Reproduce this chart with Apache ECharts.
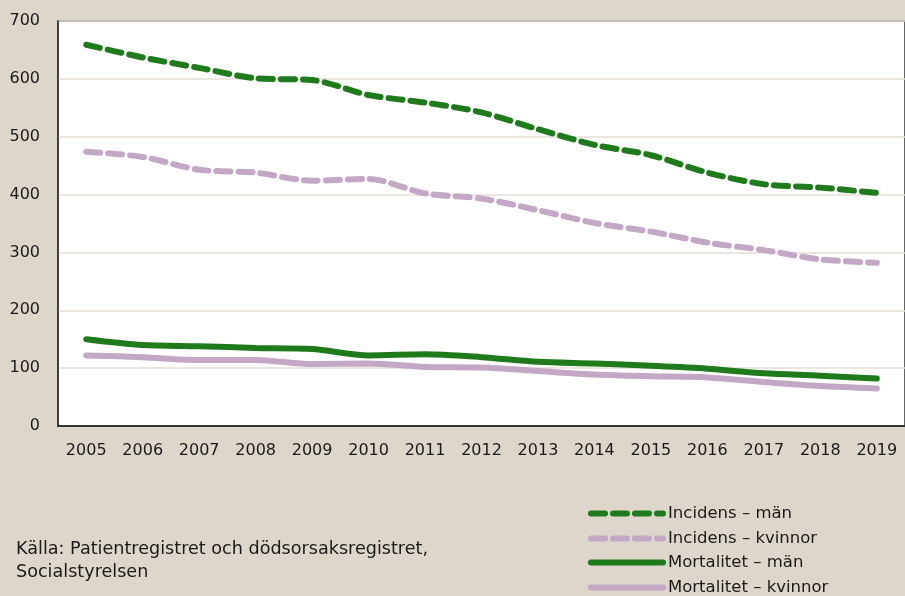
<!DOCTYPE html>
<html lang="sv">
<head>
  <meta charset="UTF-8" />
  <title>Incidens och mortalitet</title>
  <script src="https://cdn.jsdelivr.net/npm/echarts@6/dist/echarts.min.js"></script>
  <style>
    html, body { margin: 0; padding: 0; background: #ddd6cb; }
    #chart { width: 905px; height: 596px; }
  </style>
</head>
<body>
  <div id="chart"></div>
  <script>
    // data
    var years = ['2005', '2006', '2007', '2008', '2009', '2010', '2011', '2012', '2013', '2014', '2015', '2016', '2017', '2018', '2019'];
    var incidensMan = [659, 637, 619, 601, 598, 572, 559, 542, 513, 486, 468, 438, 418, 412, 403];
    var incidensKvinnor = [474, 465, 443, 438, 424, 427, 402, 393, 373, 351, 336, 317, 304, 288, 282];
    var mortalitetMan = [150, 140, 138, 135, 133, 122, 124, 119, 111, 108, 104, 99, 91, 87, 82];
    var mortalitetKvinnor = [122, 119, 114, 114, 107, 108, 102, 101, 95, 89, 86, 84, 76, 69, 65];
    var seriesNames = ['Incidens – män', 'Incidens – kvinnor', 'Mortalitet – män', 'Mortalitet – kvinnor'];

    var green = '#1f7a1c';
    var lilac = '#c2a8c4';
    var font = 'DejaVu Sans';

    function lineSeries(name, data, color, dashed) {
      return {
        name: name,
        type: 'line',
        data: data,
        symbol: 'none',
        smooth: 0.3,
        lineStyle: {
          color: color,
          width: 6,
          type: dashed ? [14, 8] : 'solid',
          cap: 'round'
        },
        itemStyle: { color: color }
      };
    }

    // one legend per row so nothing wraps into a second column
    var legendTops = [505, 530, 554, 579];
    var legends = seriesNames.map(function (name, i) {
      return {
        orient: 'vertical',
        left: 588,
        top: legendTops[i],
        padding: 0,
        itemWidth: 72,
        itemHeight: 12,
        itemGap: 6,
        itemStyle: { opacity: 0 },
        lineStyle: { width: 6, cap: 'round' },
        textStyle: { color: '#1a1a1a', fontSize: 16.5, lineHeight: 16, fontFamily: font },
        data: [name]
      };
    });

    var myChart = echarts.init(document.getElementById('chart'));

    myChart.setOption({
      backgroundColor: '#ddd6cb',
      animation: false,
      textStyle: { fontFamily: font },
      grid: {
        left: 58,
        top: 21,
        width: 852,
        height: 405,
        show: true,
        backgroundColor: '#ffffff',
        borderColor: '#333333',
        borderWidth: 1.5
      },
      xAxis: {
        type: 'category',
        data: years,
        boundaryGap: true,
        axisLine: { lineStyle: { color: '#333333', width: 2 } },
        axisTick: { inside: true, length: 6, lineStyle: { color: '#333333', width: 1.5 } },
        axisLabel: { color: '#1a1a1a', fontSize: 16, margin: 17, fontFamily: font }
      },
      yAxis: {
        type: 'value',
        min: 0,
        max: 700,
        interval: 100,
        axisLine: { show: true, lineStyle: { color: '#333333', width: 1.5 } },
        axisTick: { show: false },
        axisLabel: { color: '#1a1a1a', fontSize: 16, margin: 18, fontFamily: font },
        splitLine: { lineStyle: { color: '#e4ded3', width: 1.5 } }
      },
      legend: legends,
      graphic: [
        {
          type: 'text',
          left: 16,
          top: 538,
          style: {
            text: 'Källa: Patientregistret och dödsorsaksregistret,\nSocialstyrelsen',
            fill: '#1a1a1a',
            font: '17.6px ' + font,
            lineHeight: 23
          }
        }
      ],
      series: [
        lineSeries(seriesNames[0], incidensMan, green, true),
        lineSeries(seriesNames[1], incidensKvinnor, lilac, true),
        lineSeries(seriesNames[2], mortalitetMan, green, false),
        lineSeries(seriesNames[3], mortalitetKvinnor, lilac, false)
      ]
    });
  </script>
</body>
</html>
